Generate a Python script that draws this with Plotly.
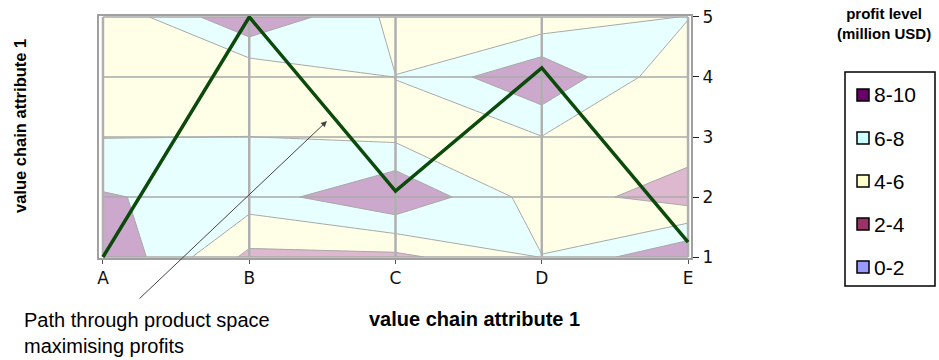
import plotly.graph_objects as go

x_labels = ["A", "B", "C", "D", "E"]
y_ticks = [1, 2, 3, 4, 5]

# profit (million USD) read at each grid node; one list per y level, columns follow x_labels
profit_y1 = [9.9, 3.5, 3.5, 6.05, 9.9]
profit_y2 = [8.2, 7.0, 9.9, 5.0, 3.0]
profit_y3 = [5.95, 6.02, 5.6, 5.95, 5.0]
profit_y4 = [5.0, 4.2, 6.02, 9.8, 4.1]
profit_y5 = [4.2, 9.9, 5.5, 4.5, 6.1]

# profit-maximising path through the product space
path_y = [1.0, 5.0, 2.1, 4.15, 1.25]

band_labels = ["8-10", "6-8", "4-6", "2-4", "0-2"]
band_legend_colors = ["#660066", "#CCFFFF", "#FFFFCC", "#993366", "#9999FF"]
band_fill_colors = ["#CCA8CC", "#E8FFFF", "#FFFFE8", "#DDB8CF", "#D6D6FF"]
band_edges = [0, 2, 4, 6, 8, 10]

FONT = "Liberation Sans, Arial, sans-serif"
W, H = 939, 360
L, R, T, B = 98, 247, 15, 101
PW, PH = W - L - R, H - T - B


def px_x(px):
    return (px - L) / PW


def px_y(py):
    return 1 - (py - T) / PH


z = [profit_y1, profit_y2, profit_y3, profit_y4, profit_y5]

# stepped colorscale, one flat step per profit band
lo_hi = band_fill_colors[::-1]
step = band_edges[1] - band_edges[0]
span = band_edges[-1] - band_edges[0] + 2 * step
cuts = [(e - band_edges[0] + step) / span for e in band_edges[1:-1]]
colorscale = []
prev = 0.0
for col, cut in zip(lo_hi, cuts + [1.0]):
    colorscale += [[prev, col], [cut, col]]
    prev = cut

fig = go.Figure()
fig.add_trace(go.Contour(
    z=z, x=x_labels, y=y_ticks,
    autocontour=False,
    contours=dict(start=band_edges[0], end=band_edges[-1], size=step, coloring="fill"),
    colorscale=colorscale,
    line=dict(color="#A8A8A8", width=1, smoothing=0),
    showscale=False, showlegend=False, hoverinfo="skip",
))

# gridlines on top of the contour fill
vx, vy = [], []
for lab in x_labels:
    vx += [lab, lab, None]
    vy += [y_ticks[0], y_ticks[-1], None]
hx, hy = [], []
for t in y_ticks:
    hx += [x_labels[0], x_labels[-1], None]
    hy += [t, t, None]
fig.add_trace(go.Scatter(x=hx, y=hy, mode="lines", line=dict(color="#AAAAAA", width=1.5),
                         showlegend=False, hoverinfo="skip"))
fig.add_trace(go.Scatter(x=vx, y=vy, mode="lines", line=dict(color="#B0B0B0", width=2.5),
                         showlegend=False, hoverinfo="skip"))

fig.add_trace(go.Scatter(x=x_labels, y=path_y, mode="lines",
                         line=dict(color="#0B4A0B", width=3.5),
                         showlegend=False, hoverinfo="skip"))

fig.add_shape(type="rect", xref="paper", yref="paper", x0=0, x1=1, y0=0, y1=1,
              line=dict(color="#A0A0A0", width=2), layer="above")

# legend box drawn by hand so it sits where the reference has it
fig.add_shape(type="rect", xref="paper", yref="paper",
              x0=px_x(845), x1=px_x(935), y0=px_y(286), y1=px_y(72),
              line=dict(color="black", width=1.5), fillcolor="white")
for i, (lab, col) in enumerate(zip(band_labels, band_legend_colors)):
    cy = 95 + i * 43
    fig.add_shape(type="rect", xref="paper", yref="paper",
                  x0=px_x(857), x1=px_x(869), y0=px_y(cy + 6), y1=px_y(cy - 6),
                  line=dict(color="black", width=1.5), fillcolor=col)
    fig.add_annotation(xref="paper", yref="paper", x=px_x(872), y=px_y(cy),
                       xanchor="left", yanchor="middle", showarrow=False, text=lab,
                       font=dict(family=FONT, size=21, color="black"))

fig.add_annotation(xref="paper", yref="paper", x=px_x(884), y=px_y(24),
                   xanchor="center", yanchor="middle", showarrow=False,
                   text="<b>profit level<br>(million USD)</b>",
                   font=dict(family=FONT, size=15, color="black"))

fig.add_annotation(xref="paper", yref="paper", x=px_x(327), y=px_y(121),
                   ax=-189, ay=179, text="", showarrow=True,
                   arrowhead=2, arrowsize=1.2, arrowwidth=1, arrowcolor="#444444")
fig.add_annotation(xref="paper", yref="paper", x=px_x(22), y=px_y(333),
                   xanchor="left", yanchor="middle", align="left", showarrow=False,
                   text="Path through product space<br>maximising profits",
                   font=dict(family=FONT, size=20, color="black"))
fig.add_annotation(xref="paper", yref="paper", x=px_x(474), y=px_y(319),
                   xanchor="center", yanchor="middle", showarrow=False,
                   text="<b>value chain attribute 1</b>",
                   font=dict(family=FONT, size=20, color="black"))
fig.add_annotation(xref="paper", yref="paper", x=px_x(20), y=px_y(126),
                   xanchor="center", yanchor="middle", showarrow=False, textangle=-90,
                   text="<b>value chain attribute 1</b>",
                   font=dict(family=FONT, size=16.5, color="black"))

fig.update_layout(
    width=W, height=H,
    margin=dict(l=L, r=R, t=T, b=B, autoexpand=False),
    plot_bgcolor="white", paper_bgcolor="white",
    font=dict(family=FONT, color="black"),
    showlegend=False,
    xaxis=dict(range=[-0.034, 4.027], categoryorder="array", categoryarray=x_labels,
               showgrid=False, zeroline=False, showline=False, automargin=False,
               ticks="outside", ticklen=4, tickcolor="#555555",
               tickfont=dict(family="DejaVu Sans, sans-serif", size=17, color="#111111")),
    yaxis=dict(range=[0.967, 5.033], side="right", tickvals=y_ticks,
               showgrid=False, zeroline=False, showline=False, automargin=False,
               ticks="outside", ticklen=6, tickcolor="#222222",
               tickfont=dict(family="DejaVu Sans, sans-serif", size=17, color="#111111")),
)

# drop the browser's default 8px body margin so the figure fills the window exactly
fig.write_html("out.html", config={"displayModeBar": False},
               post_script="document.body.style.margin = '0';")
